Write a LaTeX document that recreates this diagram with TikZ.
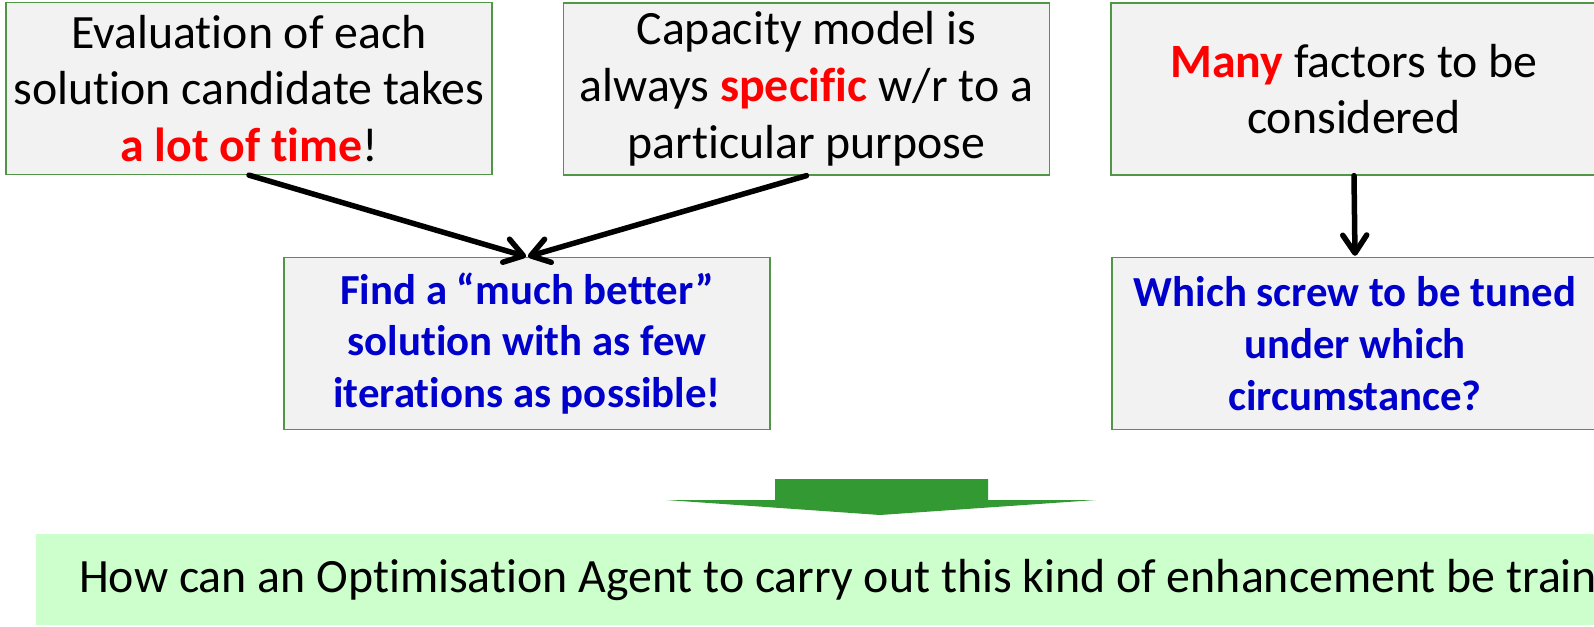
\documentclass[tikz,border=0pt]{standalone}
\usepackage{fontspec}
\setmainfont{Carlito}[Ligatures=NoCommon]
\usetikzlibrary{arrows.meta}
\definecolor{boxfill}{RGB}{242,242,242}
\definecolor{boxline}{RGB}{80,150,70}
\definecolor{hired}{RGB}{255,0,0}
\definecolor{qblue}{RGB}{0,0,204}
\definecolor{bottomfill}{RGB}{204,255,204}
\definecolor{bigarrow}{RGB}{51,153,51}
\tikzset{
  probbox/.style={draw=boxline, line width=1.3bp, fill=boxfill, minimum width=486bp, minimum height=172bp, inner sep=0pt, align=center, font=\fontsize{48}{57}\selectfont},
  qbox/.style={probbox, text=qblue, font=\fontsize{43}{52}\selectfont\bfseries},
  conn/.style={line width=5.5bp, line cap=round, -{Straight Barb[length=18bp,width=24bp,line width=5.5bp,round]}, shorten >=1bp}
}
\newcommand{\hi}[1]{\textcolor{hired}{\textbf{#1}}}
\begin{document}
\begin{tikzpicture}[x=1bp,y=-1bp]
\path[use as bounding box] (0,0) rectangle (1594,627);
\clip (0,0) rectangle (1594,627);
\node[probbox] (eval) at (249,88.5) {Evaluation of each\\solution candidate takes\\\hi{a lot of time}!};
\node[probbox] (cap) at (806.5,89) {Capacity model is\\always \hi{specific} w/r to a\\particular purpose};
\node[probbox] (many) at (1354,89) {\hi{Many} factors to be\\considered};
\node[qbox] (find) at (527,343.5) {Find a “much better”\\solution with as few\\iterations as possible!};
\node[qbox] (which) at (1355,343.5) {Which screw to be tuned\\under which\\circumstance?};
\draw[conn] (eval.south) -- (find.north);
\draw[conn] (cap.south) -- (find.north);
\draw[conn] (many.south) -- (which.north);
\fill[bigarrow] (775,479) -- (988,479) -- (988,500) -- (1096,500) -- (880,515) -- (666,500) -- (775,500) -- cycle;
\node[anchor=north west, fill=bottomfill, minimum height=91bp, inner xsep=43bp, inner ysep=0pt, font=\fontsize{48}{57}\selectfont] (goal) at (36,534) {How can an Optimisation Agent to carry out this kind of enhancement be trained?\hspace*{200bp}};
\end{tikzpicture}
\end{document}
